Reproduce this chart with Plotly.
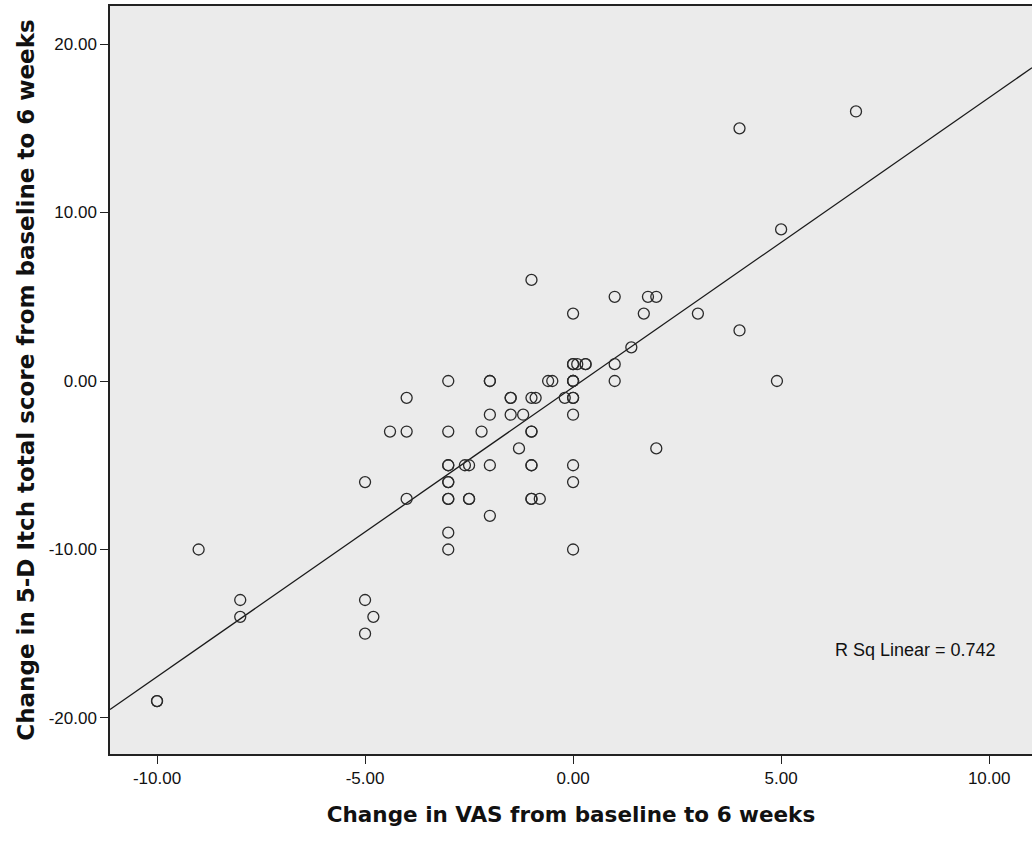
import plotly.graph_objects as go
import numpy as np

# Data (duplicates reflect overlapping circles)
vas_change = [-10, -10, -9, -8, -8, -5, -5, -4.8, -5, -4.4, -4, -4, -4,
              -3, -3, -3, -3, -3, -3, -3, -3, -3, -3,
              -2.6, -2.5, -2.5, -2.5, -2.2, -2, -2, -2, -2, -2,
              -1.5, -1.5, -1.5, -1.3, -1.2, -1, -1, -0.9, -1, -1, -1, -1, -1, -1, -0.8,
              -0.6, -0.5, -0.2,
              0, 0, 0, 0.1, 0.3, 0.3, 0, 0, 0, 0, 0, 0, 0, 0, 0,
              1, 1, 1, 1.4, 1.7, 1.8, 2, 2, 3, 4, 4, 4.9, 5, 6.8]
itch_change = [-19, -19, -10, -13, -14, -6, -13, -14, -15, -3, -1, -3, -7,
               0, -3, -5, -5, -6, -6, -7, -7, -9, -10,
               -5, -5, -7, -7, -3, 0, 0, -2, -5, -8,
               -1, -1, -2, -4, -2, 6, -1, -1, -3, -3, -5, -5, -7, -7, -7,
               0, 0, -1,
               4, 1, 1, 1, 1, 1, 0, 0, 0, -1, -1, -2, -5, -6, -10,
               5, 1, 0, 2, 4, 5, 5, -4, 4, 15, 3, 0, 9, 16]

# Fit line
fit_slope = 1.719
fit_intercept = -0.367
r_sq_text = "R Sq Linear = 0.742"

x_tick_vals = [-10, -5, 0, 5, 10]
x_tick_text = ["-10.00", "-5.00", "0.00", "5.00", "10.00"]
y_tick_vals = [-20, -10, 0, 10, 20]
y_tick_text = ["-20.00", "-10.00", "0.00", "10.00", "20.00"]

x_range = [-11.13, 11.03]
y_range = [-22.14, 22.26]

fit_x = np.array(x_range)
fit_y = fit_slope * fit_x + fit_intercept

fig = go.Figure()
fig.add_trace(go.Scatter(
    x=fit_x, y=fit_y, mode="lines",
    line=dict(color="#1a1a1a", width=1.3),
    hoverinfo="skip", showlegend=False))
fig.add_trace(go.Scatter(
    x=vas_change, y=itch_change, mode="markers",
    marker=dict(symbol="circle-open", size=11, color="#2a2a2a",
                line=dict(width=1.3, color="#2a2a2a")),
    showlegend=False))

fig.add_annotation(x=6.25, y=-15.96, xref="x", yref="y", text=r_sq_text,
                   showarrow=False, xanchor="left", yanchor="middle",
                   font=dict(family="Liberation Sans, Arial", size=18, color="#111"))

fig.update_layout(
    width=1032, height=842,
    margin=dict(l=110, r=0, t=6, b=88),
    paper_bgcolor="white", plot_bgcolor="#EBEBEB",
    font=dict(family="Liberation Sans, Arial", color="#111"),
    xaxis=dict(range=x_range, tickvals=x_tick_vals, ticktext=x_tick_text,
               showgrid=False, zeroline=False, showline=True, linecolor="#222",
               linewidth=1.5, mirror=True, ticks="outside", ticklen=8,
               tickcolor="#222", tickwidth=1.3, tickfont=dict(size=17),
               title=dict(text="<b>Change in VAS from baseline to 6 weeks</b>",
                          font=dict(family="DejaVu Sans", size=21.5, color="#111"),
                          standoff=20)),
    yaxis=dict(range=y_range, tickvals=y_tick_vals, ticktext=y_tick_text,
               showgrid=False, zeroline=False, showline=True, linecolor="#222",
               linewidth=1.5, mirror=False, ticks="outside", ticklen=8,
               tickcolor="#222", tickwidth=1.3, tickfont=dict(size=17),
               title=dict(text="<b>Change in 5-D Itch total score from baseline to 6 weeks</b>",
                          font=dict(family="DejaVu Sans", size=23, color="#111"),
                          standoff=8)),
)

fig.write_html("out.html")
